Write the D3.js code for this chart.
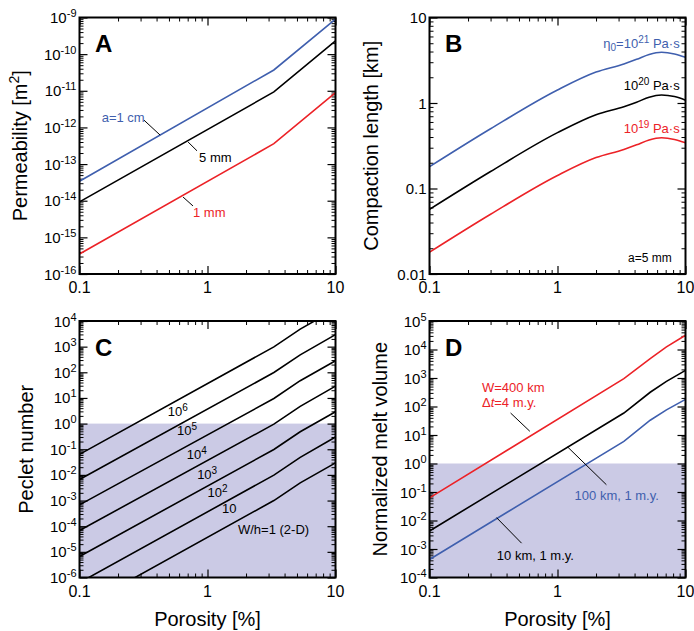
<!DOCTYPE html>
<html>
<head>
<meta charset="utf-8">
<script src="https://cdn.jsdelivr.net/npm/d3@7"></script>
<style>
body { margin: 0; background: #fff; }
text { font-family: "Liberation Sans", Arial, Helvetica, sans-serif; }
</style>
</head>
<body>
<svg id="chart" width="694" height="631"></svg>
<script>
// ---- data ----
// A: permeability vs porosity
const porosityA = [0.1, 3.3, 10];
const perm1cm = [3.4e-14, 3.7e-11, 9.0e-10];
const perm5mm = [9.3e-15, 9.3e-12, 2.3e-10];
const perm1mm = [3.5e-16, 3.6e-13, 8.9e-12];

// B: compaction length vs porosity
const porosityB = [0.1, 0.3, 1, 2, 3.3, 4.15, 5.2, 6.5, 8.2, 10];
const length21 = [0.18, 0.50, 1.42, 2.30, 2.86, 3.24, 3.70, 3.92, 3.75, 3.42];
const length20 = [0.057, 0.158, 0.45, 0.73, 0.905, 1.02, 1.17, 1.24, 1.19, 1.08];
const length19 = [0.018, 0.050, 0.142, 0.230, 0.286, 0.324, 0.37, 0.392, 0.375, 0.342];

// C: Peclet number for several W/h
const porosityC = [0.1, 3.3, 5.3, 10];
const peclet1e6 = [6.3e-2, 980, 4800, 29500];
const peclet1e5 = [6.6e-3, 98, 480, 2950];
const peclet1e4 = [6.8e-4, 9.5, 47, 282];
const peclet1e3 = [6.8e-5, 0.95, 4.7, 29];
const peclet1e2 = [6.6e-6, 0.098, 0.48, 2.9];
const peclet1e1 = [6.3e-7, 0.0098, 0.048, 0.30];
const peclet1e0 = [6.3e-8, 0.001, 0.0049, 0.0295];

// D: normalized melt volume
const porosityD = [0.1, 3.3, 5.3, 7.1, 10];
const melt400km = [0.062, 955, 4790, 12300, 31600];
const melt100km = [0.0043, 59, 316, 760, 1860];
const melt10km = [0.00043, 6.0, 33, 76, 178];

const blue = "#3f5fae", red = "#ec2227", black = "#000";
const shade = "#cbcae5";

// ---- layout ----
const svg = d3.select("#chart");
const pw = 256, ph = 256.5;

function decadeTicks(domain) {
    let out = [];
    let e0 = Math.floor(Math.log10(domain[0]) + 1e-9), e1 = Math.ceil(Math.log10(domain[1]) - 1e-9);
    for (let e = e0; e <= e1; e++) {
        for (let m = 1; m < 10; m++) {
            let v = m * Math.pow(10, e);
            if (v >= domain[0] * 0.999 && v <= domain[1] * 1.001) out.push(v);
        }
    }
    return out;
}
const isMajor = v => Math.abs(Math.log10(v) - Math.round(Math.log10(v))) < 1e-6;

function supLabel(sel, base, sup, fs, supFs) {
    sel.append("tspan").text(base);
    sel.append("tspan").attr("dy", -fs * 0.4).attr("font-size", supFs).text(sup);
}

function makePanel(p) {
    let g = svg.append("g").attr("transform", `translate(${p.left},${p.top})`);
    let x = d3.scaleLog().domain([0.1, 10]).range([0, pw]);
    let y = d3.scaleLog().domain(p.yDomain).range([ph, 0]);

    let clipId = "clip" + p.letter;
    g.append("clipPath").attr("id", clipId)
        .append("rect").attr("width", pw).attr("height", ph);

    if (p.shadeTo) {
        g.append("rect")
            .attr("x", 0).attr("width", pw)
            .attr("y", y(p.shadeTo)).attr("height", ph - y(p.shadeTo))
            .attr("fill", shade);
    }

    // ticks, inward on all four sides
    let xt = decadeTicks([0.1, 10]), yt = decadeTicks(p.yDomain);
    let xMinor = xt.filter(v => !isMajor(v)), xMajor = xt.filter(isMajor);
    let yMinor = yt.filter(v => !isMajor(v)), yMajor = yt.filter(isMajor);
    let axes = [
        [d3.axisBottom(x), `translate(0,${ph})`, xMinor, xMajor],
        [d3.axisTop(x), null, xMinor, xMajor],
        [d3.axisLeft(y), null, yMinor, yMajor],
        [d3.axisRight(y), `translate(${pw},0)`, yMinor, yMajor]
    ];
    axes.forEach(([ax, tr, minor, major]) => {
        [[minor, 4, 1], [major, 8, 1.2]].forEach(([vals, len, sw]) => {
            let a = g.append("g").call(ax.tickValues(vals).tickSize(-len).tickFormat(""));
            if (tr) a.attr("transform", tr);
            a.select(".domain").remove();
            a.selectAll("line").attr("stroke-width", sw);
        });
    });

    // lines
    let line = d3.line()
        .x(d => x(d[0])).y(d => y(d[1]))
        .curve(p.smooth ? d3.curveMonotoneX : d3.curveLinear);
    let lg = g.append("g").attr("clip-path", `url(#${clipId})`);
    p.series.forEach(s => {
        lg.append("path")
            .datum(s.xs.map((v, i) => [v, s.ys[i]]))
            .attr("fill", "none")
            .attr("stroke", s.color)
            .attr("stroke-width", 1.6)
            .attr("d", line);
    });

    // leader lines
    (p.leaders || []).forEach(l => {
        g.append("line")
            .attr("x1", x(l[0])).attr("y1", y(l[1]))
            .attr("x2", x(l[2])).attr("y2", y(l[3]))
            .attr("stroke", "#000").attr("stroke-width", 1);
    });

    // annotations
    (p.notes || []).forEach(n => {
        let t = g.append("text")
            .attr("x", x(n.x)).attr("y", y(n.y))
            .attr("fill", n.color || "#000")
            .attr("font-size", n.size || 13)
            .attr("text-anchor", n.anchor || "start");
        n.parts.forEach(part => {
            let ts = t.append("tspan").text(part.t);
            if (part.sup) ts.attr("dy", -5).attr("font-size", 10);
            if (part.sub) ts.attr("dy", 3).attr("font-size", 10);
            if (part.back) ts.attr("dy", part.back);
            if (part.italic) ts.attr("font-style", "italic");
        });
    });

    // frame
    g.append("rect").attr("width", pw).attr("height", ph)
        .attr("fill", "none").attr("stroke", "#000").attr("stroke-width", 2);

    // x tick labels
    [[0.1, "0.1"], [1, "1"], [10, "10"]].forEach(([v, s]) => {
        g.append("text").attr("x", x(v)).attr("y", ph + 19)
            .attr("text-anchor", "middle").attr("font-size", 16).text(s);
    });

    // y tick labels
    yMajor.forEach(v => {
        let t = g.append("text").attr("x", -3).attr("y", y(v) + 5.5)
            .attr("text-anchor", "end").attr("font-size", 15);
        if (p.plainY) {
            t.text(p.plainY(v));
        } else {
            supLabel(t, "10", String(Math.round(Math.log10(v))), 15, 11);
        }
    });

    // panel letter
    g.append("text").attr("x", 15.5).attr("y", 34.5)
        .attr("font-size", 24).attr("font-weight", "bold").text(p.letter);

    // y axis title
    let yt2 = g.append("text")
        .attr("transform", `translate(${p.titleX},${ph / 2}) rotate(-90)`)
        .attr("text-anchor", "middle").attr("font-size", 20);
    p.title.forEach(part => {
        let ts = yt2.append("tspan").text(part.t);
        if (part.sup) ts.attr("dy", -8).attr("font-size", 14);
        if (part.back) ts.attr("dy", part.back);
    });

    if (p.xTitle) {
        g.append("text").attr("x", pw / 2).attr("y", ph + 48)
            .attr("text-anchor", "middle").attr("font-size", 20).text("Porosity [%]");
    }
}

makePanel({
    letter: "A", left: 79.5, top: 17.5, yDomain: [1e-16, 1e-9],
    titleX: -53,
    title: [{t: "Permeability [m"}, {t: "2", sup: true}, {t: "]", back: 8}],
    series: [
        {xs: porosityA, ys: perm1cm, color: blue},
        {xs: porosityA, ys: perm5mm, color: black},
        {xs: porosityA, ys: perm1mm, color: red}
    ],
    leaders: [
        [0.319, 1.58e-12, 0.426, 6.2e-13],
        [0.705, 4.0e-13, 0.828, 2.3e-13],
        [0.644, 1.26e-14, 0.77, 7.2e-15]
    ],
    notes: [
        {x: 0.149, y: 1.41e-12, color: blue, parts: [{t: "a=1 cm"}]},
        {x: 0.86, y: 1.15e-13, parts: [{t: "5 mm"}]},
        {x: 0.77, y: 3.6e-15, color: red, parts: [{t: "1 mm"}]}
    ]
});

makePanel({
    letter: "B", left: 429.5, top: 17.5, yDomain: [0.01, 10],
    titleX: -51.5, smooth: true,
    plainY: v => String(v),
    title: [{t: "Compaction length [km]"}],
    series: [
        {xs: porosityB, ys: length21, color: blue},
        {xs: porosityB, ys: length20, color: black},
        {xs: porosityB, ys: length19, color: red}
    ],
    notes: [
        {x: 9.0, y: 4.4, color: blue, anchor: "end",
         parts: [{t: "η"}, {t: "0", sub: true}, {t: "=10", back: -3}, {t: "21", sup: true}, {t: " Pa·s", back: 5}]},
        {x: 9.0, y: 1.42, anchor: "end",
         parts: [{t: "10"}, {t: "20", sup: true}, {t: " Pa·s", back: 5}]},
        {x: 9.0, y: 0.446, color: red, anchor: "end",
         parts: [{t: "10"}, {t: "19", sup: true}, {t: " Pa·s", back: 5}]},
        {x: 7.8, y: 0.0138, anchor: "end", size: 12, parts: [{t: "a=5 mm"}]}
    ]
});

makePanel({
    letter: "C", left: 79.5, top: 321, yDomain: [1e-6, 1e4],
    titleX: -47, shadeTo: 1, xTitle: true,
    title: [{t: "Peclet number"}],
    series: [peclet1e6, peclet1e5, peclet1e4, peclet1e3, peclet1e2, peclet1e1, peclet1e0]
        .map(ys => ({xs: porosityC, ys: ys, color: black})),
    notes: [
        {x: 0.49, y: 1.9, parts: [{t: "10"}, {t: "6", sup: true}]},
        {x: 0.578, y: 0.36, parts: [{t: "10"}, {t: "5", sup: true}]},
        {x: 0.69, y: 0.043, parts: [{t: "10"}, {t: "4", sup: true}]},
        {x: 0.83, y: 0.0072, parts: [{t: "10"}, {t: "3", sup: true}]},
        {x: 1.0, y: 0.0014, parts: [{t: "10"}, {t: "2", sup: true}]},
        {x: 1.3, y: 3.2e-4, parts: [{t: "10"}]},
        {x: 1.73, y: 5.0e-5, parts: [{t: "W/h=1 (2-D)"}]}
    ]
});

makePanel({
    letter: "D", left: 429.5, top: 321, yDomain: [1e-4, 1e5],
    titleX: -43, shadeTo: 1, xTitle: true,
    title: [{t: "Normalized melt volume"}],
    series: [
        {xs: porosityD, ys: melt400km, color: red},
        {xs: porosityD, ys: melt100km, color: black},
        {xs: porosityD, ys: melt10km, color: blue}
    ],
    leaders: [
        [0.43, 59, 0.608, 13.5],
        [1.2, 3.8, 2.41, 0.18],
        [0.334, 0.0126, 0.524, 0.0016]
    ],
    notes: [
        {x: 0.257, y: 316, color: red, parts: [{t: "W=400 km"}]},
        {x: 0.257, y: 93, color: red, parts: [{t: "Δ"}, {t: "t", italic: true}, {t: "=4 m.y."}]},
        {x: 1.36, y: 0.051, color: blue, parts: [{t: "100 km, 1 m.y."}]},
        {x: 0.336, y: 4e-4, parts: [{t: "10 km, 1 m.y."}]}
    ]
});
</script>
</body>
</html>
